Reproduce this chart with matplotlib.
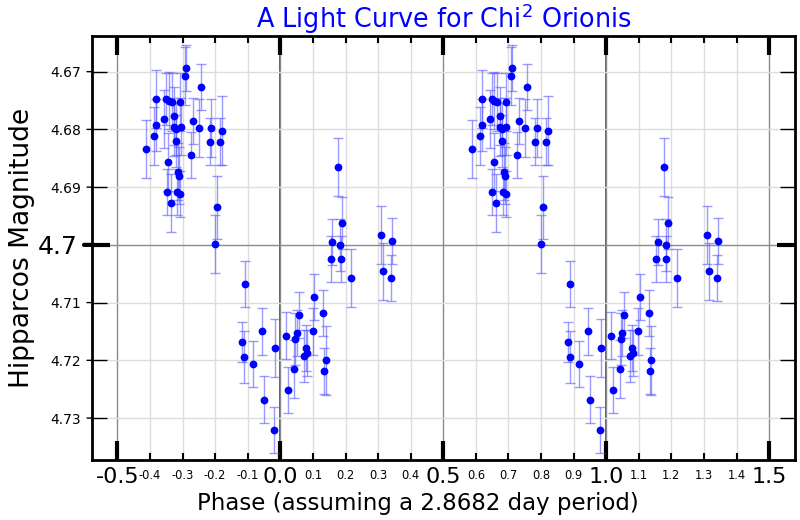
import matplotlib
matplotlib.use("Agg")
import matplotlib.pyplot as plt
import numpy as np
from matplotlib.ticker import MultipleLocator, FixedLocator, FormatStrFormatter

# phase in [-0.5, 0.5), Hipparcos magnitude, error
phase = [-0.412, -0.381, -0.381, -0.387, -0.356, -0.352, -0.343, -0.334, -0.325, -0.309,
         -0.326, -0.319, -0.306, -0.319, -0.344, -0.313, -0.312, -0.349, -0.337, -0.316,
         -0.309, -0.292, -0.288, -0.268, -0.275, -0.249, -0.244, -0.212, -0.217, -0.180,
         -0.185, -0.195, -0.200, -0.110, -0.118, -0.112, -0.083, -0.056, -0.051, -0.015,
         -0.020, 0.016, 0.022, 0.041, 0.046, 0.050, 0.056, 0.072, 0.078, 0.082,
         0.099, 0.104, 0.130, 0.139, 0.135, 0.154, 0.159, 0.178, 0.183, 0.185,
         0.190, 0.217, 0.309, 0.314, 0.344, 0.340]
mag = [4.6834, 4.6747, 4.6792, 4.6812, 4.6782, 4.6747, 4.6750, 4.6752, 4.6777, 4.6752,
       4.6796, 4.6800, 4.6795, 4.6820, 4.6856, 4.6873, 4.6880, 4.6908, 4.6928, 4.6909,
       4.6912, 4.6708, 4.6693, 4.6785, 4.6845, 4.6798, 4.6727, 4.6798, 4.6821, 4.6802,
       4.6821, 4.6935, 4.6998, 4.7068, 4.7168, 4.7194, 4.7207, 4.7150, 4.7268, 4.7179,
       4.7321, 4.7157, 4.7252, 4.7215, 4.7163, 4.7153, 4.7122, 4.7192, 4.7178, 4.7187,
       4.7150, 4.7091, 4.7118, 4.7200, 4.7219, 4.7025, 4.6995, 4.6865, 4.7000, 4.7025,
       4.6962, 4.7057, 4.6983, 4.7046, 4.6993, 4.7057]
err = [0.005, 0.005, 0.0045, 0.005, 0.005, 0.0045, 0.005, 0.005, 0.005, 0.005,
       0.005, 0.0045, 0.005, 0.0045, 0.005, 0.005, 0.005, 0.004, 0.005, 0.004,
       0.004, 0.005, 0.004, 0.004, 0.004, 0.005, 0.004, 0.005, 0.004, 0.006,
       0.004, 0.0055, 0.005, 0.004, 0.0035, 0.0045, 0.004, 0.004, 0.004, 0.005,
       0.004, 0.004, 0.004, 0.005, 0.0045, 0.004, 0.004, 0.0045, 0.004, 0.004,
       0.004, 0.004, 0.004, 0.006, 0.004, 0.004, 0.004, 0.005, 0.0045, 0.004,
       0.0045, 0.005, 0.005, 0.005, 0.004, 0.004]

period = 2.8682
x_major = [-0.5, 0.0, 0.5, 1.0, 1.5]
y_minor = [4.67, 4.68, 4.69, 4.71, 4.72, 4.73]
y_major = [4.7]

fig = plt.figure(figsize=(8, 5.2), dpi=100)
ax = fig.add_axes([0.115, 0.115, 0.879, 0.816])

ph = np.array(phase)
for shift in (0.0, 1.0):
    ax.errorbar(ph + shift, mag, yerr=err, fmt="none", ecolor=(0.35, 0.35, 1.0),
                alpha=0.6, elinewidth=1, capsize=3.5, capthick=1, zorder=3)
    ax.plot(ph + shift, mag, "o", color="blue", ms=4.6, zorder=4)

ax.set_xlim(-0.578, 1.58)
ax.set_ylim(4.7373, 4.6638)

ax.xaxis.set_major_locator(FixedLocator(x_major))
ax.xaxis.set_minor_locator(MultipleLocator(0.1))
ax.xaxis.set_major_formatter(FormatStrFormatter("%.1f"))
ax.xaxis.set_minor_formatter(FormatStrFormatter("%.1f"))
ax.yaxis.set_major_locator(FixedLocator(y_major))
ax.yaxis.set_minor_locator(FixedLocator(y_minor))
ax.yaxis.set_major_formatter(FormatStrFormatter("%.1f"))
ax.yaxis.set_minor_formatter(FormatStrFormatter("%.2f"))

ax.grid(which="minor", color="#dddddd", lw=1, zorder=0)
ax.grid(which="major", color="#8a8a8a", lw=1, zorder=1)
for xv in (0.0, 1.0):
    ax.axvline(xv, color="#505050", lw=1.3, zorder=1)

ax.tick_params(axis="x", which="major", direction="in", top=True, length=14, width=3,
               labelsize=16, pad=5)
ax.tick_params(axis="x", which="minor", direction="in", top=True, length=5, width=1.5,
               labelsize=8.3, pad=6)
ax.tick_params(axis="y", which="major", direction="in", left=True, right=True, length=13,
               width=3, labelsize=18, pad=10)
ax.tick_params(axis="y", which="minor", direction="in", left=True, right=True, length=11,
               width=1, labelsize=10, pad=8)
# short outward stubs on the left side only
for yv, w, ln in [(4.7, 3, 8)] + [(v, 1, 5) for v in y_minor]:
    ax.annotate("", xy=(0, yv), xycoords=("axes fraction", "data"),
                xytext=(-ln, 0), textcoords="offset pixels",
                arrowprops=dict(arrowstyle="-", lw=w, color="black",
                                shrinkA=0, shrinkB=0), annotation_clip=False)

for sp in ax.spines.values():
    sp.set_linewidth(2)

ax.set_title("A Light Curve for Chi$^2$ Orionis", color="blue", fontsize=18.4, pad=6)
ax.set_xlabel("Phase (assuming a %.4f day period)" % period, fontsize=16.5, labelpad=2)
ax.xaxis.set_label_coords(0.464, -0.075)
ax.set_ylabel("Hipparcos Magnitude", fontsize=19, labelpad=2)

fig.savefig("out.png", dpi=100)
